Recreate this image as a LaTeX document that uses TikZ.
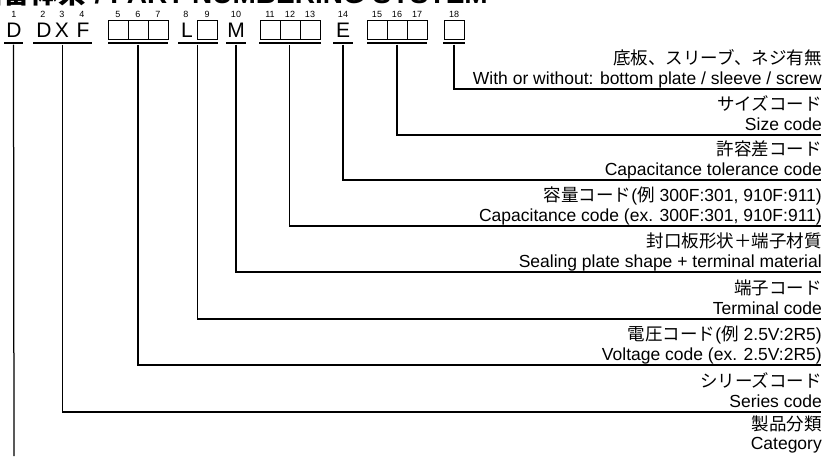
\documentclass[tikz,border=0pt]{standalone}
\usepackage{fontspec}
\setmainfont{Liberation Sans}
\newfontfamily\jp{Noto Sans CJK JP}
\usetikzlibrary{positioning}

\begin{document}
\begin{tikzpicture}[x=1pt, y=-1pt,
    letter/.style={font=\fontsize{21}{21}\selectfont, inner sep=0pt, anchor=base},
    slot/.style={draw, line width=1pt, minimum width=20pt, minimum height=19pt, inner sep=0pt},
    posno/.style={font=\fontsize{9}{9}\selectfont, inner sep=0pt},
    bar/.style={fill=black, inner sep=0pt, minimum height=2.6pt},
    lead/.style={line width=1.25pt},
    desc/.style={font=\fontsize{17.5}{17.5}\selectfont, inner sep=0pt, anchor=base east}]
    \useasboundingbox (0,0) rectangle (827,456);
    \clip (0,0) rectangle (827,456);

    % Title, cut off by the top edge
    \node [font=\bfseries\fontsize{28}{28}\selectfont, inner sep=0pt, anchor=base east] (title) at (488,3) {{\jp 品番体系} / PART NUMBERING SYSTEM};

    % Position numbers
    \foreach \n/\x in {1/14, 2/43, 3/62, 4/82, 5/118, 6/138, 7/158, 8/186, 9/207,
        10/236, 11/270, 12/290, 13/310, 14/343, 15/377, 16/397, 17/417, 18/454}
        \node [posno] (p\n) at (\x,14) {\n};

    % Fixed letters
    \node [letter] (c1) at (14,37) {D};
    \node [letter] (c2) at (44,37) {D};
    \node [letter] (c3) at (62,37) {X};
    \node [letter] (c4) at (83,37) {F};
    \node [letter] (c8) at (187,37) {L};
    \node [letter] (c10) at (236,37) {M};
    \node [letter] (c14) at (343,37) {E};

    % Empty boxes
    \foreach \n/\x in {5/118, 6/138, 7/158, 9/207, 11/270, 12/290, 13/310, 15/377, 16/397, 17/417, 18/454}
        \node [slot] (c\n) at (\x,29.5) {};

    % Bars under each field
    \node [bar, minimum width=19pt] (b1) at (13.5,43) {};
    \node [bar, minimum width=59pt] (b2) at (62.5,43) {};
    \node [bar, minimum width=60pt] (b5) at (138,43) {};
    \node [bar, minimum width=40pt] (b8) at (197.5,43) {};
    \node [bar, minimum width=20pt] (b10) at (236,43) {};
    \node [bar, minimum width=62pt] (b11) at (289.5,43) {};
    \node [bar, minimum width=20pt] (b14) at (343,43) {};
    \node [bar, minimum width=60pt] (b15) at (397,43) {};
    \node [bar, minimum width=22pt] (b18) at (454,43) {};

    % Line ends on the right
    \coordinate (e18) at (821,89);
    \coordinate (e15) at (821,135);
    \coordinate (e14) at (821,180);
    \coordinate (e11) at (821,226);
    \coordinate (e10) at (821,272);
    \coordinate (e8) at (821,319);
    \coordinate (e5) at (821,365);
    \coordinate (e2) at (821,412);
    \coordinate (e1) at (14,456);

    \draw [lead] (b18.south) |- (e18);
    \draw [lead] (b15.south) |- (e15);
    \draw [lead] (b14.south) |- (e14);
    \draw [lead] (b11.south) |- (e11);
    \draw [lead] (b10.south) |- (e10);
    \draw [lead] (b8.south) |- (e8);
    \draw [lead] (b5.south) |- (e5);
    \draw [lead] (b2.south) |- (e2);
    \draw [lead] (b1.south) -- (e1);

    % Descriptions
    \node [desc] (j18) at (822,64) {\jp 底板、スリーブ、ネジ有無};
    \node [desc] (t18) at (822,84) {With or without: bottom plate / sleeve / screw};
    \node [desc] (j15) at (822,110) {\jp サイズコード};
    \node [desc] (t15) at (822,130) {Size code};
    \node [desc] (j14) at (822,155) {\jp 許容差コード};
    \node [desc] (t14) at (822,175) {Capacitance tolerance code};
    \node [desc] (j11) at (822,201) {{\jp 容量コード}({\jp 例} 300F:301, 910F:911)};
    \node [desc] (t11) at (822,221) {Capacitance code (ex. 300F:301, 910F:911)};
    \node [desc] (j10) at (822,247) {\jp 封口板形状＋端子材質};
    \node [desc] (t10) at (822,267) {Sealing plate shape + terminal material};
    \node [desc] (j8) at (822,294) {\jp 端子コード};
    \node [desc] (t8) at (822,314) {Terminal code};
    \node [desc] (j5) at (822,340) {{\jp 電圧コード}({\jp 例} 2.5V:2R5)};
    \node [desc] (t5) at (822,360) {Voltage code (ex. 2.5V:2R5)};
    \node [desc] (j2) at (822,387) {\jp シリーズコード};
    \node [desc] (t2) at (822,407) {Series code};
    \node [desc] (j1) at (822,430) {\jp 製品分類};
    \node [desc] (t1) at (822,449) {Category};

\end{tikzpicture}
\end{document}
